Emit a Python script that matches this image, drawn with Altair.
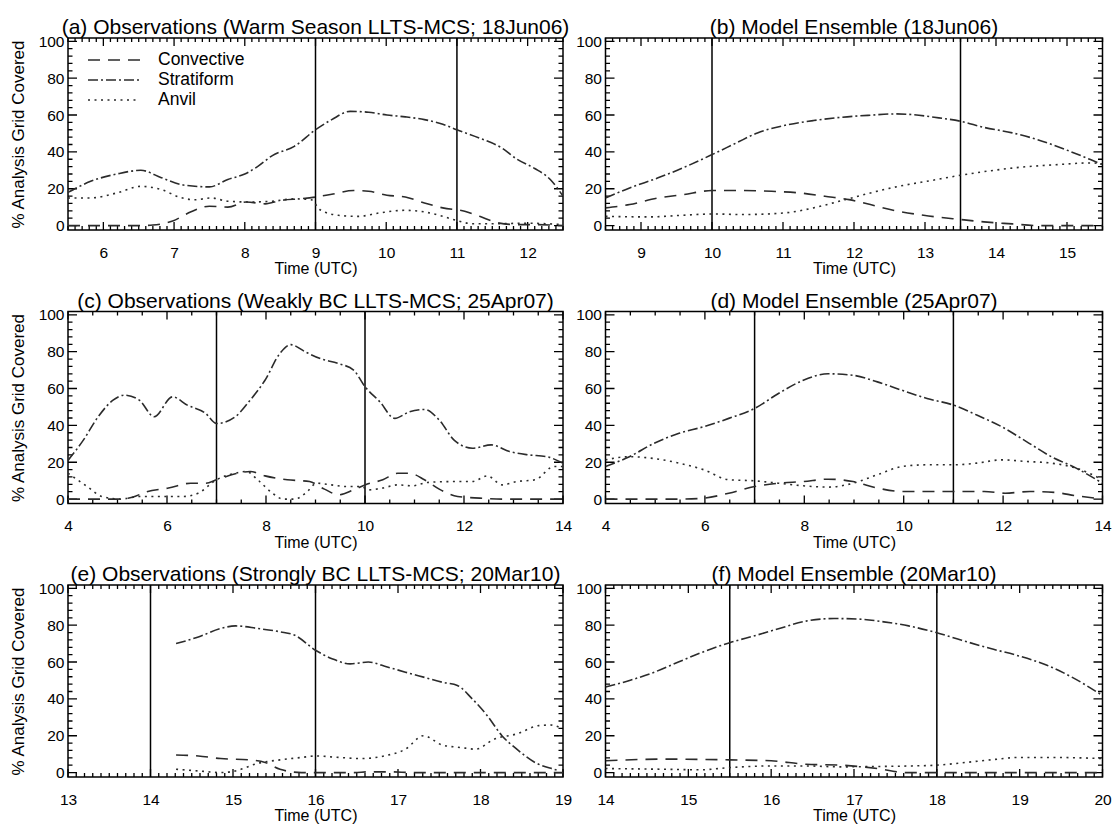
import altair as alt
import numpy as np
import pandas as pd

# ---------------- (a) Observations, warm season LLTS-MCS, 18 Jun 2006 ----------------
A_CONV_T = [5.5, 6.0, 6.5, 6.7, 6.98, 7.24, 7.5, 7.76, 8.02, 8.29, 8.5, 8.81, 9.0, 9.23, 9.54,
            9.75, 10.01, 10.27, 10.54, 10.8, 11.11, 11.32, 11.58, 11.85, 12.1, 12.5]
A_CONV = [0, 0, 0, 0.3, 2.5, 7.5, 10.5, 10, 12.8, 11.8, 13.6, 14.6, 15.5, 17, 19,
          18.6, 16.5, 15.5, 12.3, 9.6, 7.8, 5, 1.5, 0.5, 0.5, 0]
A_STRAT_T = [5.5, 5.82, 6.19, 6.53, 6.82, 7.13, 7.5, 7.76, 8.0, 8.18, 8.39, 8.7, 9.0, 9.23,
             9.49, 9.75, 10.01, 10.27, 10.54, 10.8, 11.0, 11.32, 11.64, 11.85, 12.1, 12.32, 12.5]
A_STRAT = [18, 24, 28, 30, 26, 22, 21, 25, 28, 32, 38, 43, 52, 57.5,
           62, 61.5, 60, 59, 57.5, 55, 52, 47.5, 42, 36, 31, 25, 16]
A_ANVIL_T = [5.5, 5.82, 6.19, 6.53, 6.82, 7.08, 7.29, 7.53, 7.76, 8.07, 8.39, 8.7, 8.94, 9.06,
             9.32, 9.6, 9.91, 10.27, 10.54, 10.8, 11.0, 11.22, 11.58, 11.95, 12.27, 12.5]
A_ANVIL = [15, 15, 17.7, 21.3, 19.5, 15.4, 14, 15, 13.2, 12.8, 13.2, 14.5, 14, 8.7,
           5.6, 5, 6.9, 8.3, 7.4, 5, 2.7, 1, 1, 1.3, 1, 0.5]
A_LINES = [9, 11]

# ---------------- (b) Model ensemble, 18 Jun 2006 ----------------
B_CONV_T = [8.5, 8.84, 9.24, 9.59, 10.0, 10.44, 10.84, 11.24, 11.59, 11.93, 12.23, 12.58, 12.98,
            13.5, 13.83, 14.23, 14.58, 15.0, 15.5]
B_CONV = [9.6, 11.4, 15, 16.8, 19, 19, 18.6, 17.7, 15.9, 14.1, 11.4, 8.1, 5.6,
          3.3, 2, 0.9, 0, 0, 0]
B_STRAT_T = [8.5, 8.84, 9.24, 9.59, 10.0, 10.34, 10.64, 11.03, 11.43, 11.83, 12.23, 12.58, 12.83,
             13.13, 13.5, 13.83, 14.23, 14.58, 14.98, 15.33, 15.5]
B_STRAT = [15, 20.4, 25.9, 31.3, 38.5, 44.8, 50.3, 54.4, 57, 58.8, 59.9, 60.6, 60.2,
           58.8, 56.6, 53.3, 50.3, 46.7, 41.2, 35.8, 33]
B_ANVIL_T = [8.5, 9.09, 9.59, 10.0, 10.44, 11.03, 11.43, 11.83, 12.23, 12.63, 13.08, 13.5, 13.93,
             14.33, 14.83, 15.33, 15.5]
B_ANVIL = [5, 4.7, 5.6, 6.3, 6, 6.9, 9.6, 13.6, 17.7, 21.3, 24.4, 27.3, 29.8,
           31.6, 33, 34, 33.5]
B_LINES = [10, 13.5]

# ---------------- (c) Observations, weakly BC LLTS-MCS, 25 Apr 2007 ----------------
C_CONV_T = [4.0, 4.5, 5.0, 5.3, 5.59, 6.03, 6.48, 6.78, 7.0, 7.38, 7.68, 7.98, 8.43, 8.88, 9.18,
            9.47, 9.77, 10.0, 10.36, 10.66, 10.9, 11.2, 11.5, 11.87, 12.32, 12.77, 13.44, 14.0]
C_CONV = [0, 0, 0, 1, 4, 6, 8.6, 8.6, 10.5, 13.7, 15, 12.6, 10.5, 9.5, 5.4,
          2.3, 5, 7.7, 10.5, 14, 14, 10.5, 5.4, 1.4, 0.5, 0, 0, 0]
C_STRAT_T = [4.0, 4.31, 4.61, 4.91, 5.14, 5.44, 5.74, 6.11, 6.41, 6.78, 7.0, 7.38, 7.68, 7.98,
             8.28, 8.5, 8.8, 9.1, 9.47, 9.77, 10.0, 10.3, 10.6, 10.9, 11.2, 11.5, 11.8, 12.17,
             12.55, 12.92, 13.3, 13.67, 14.0]
C_STRAT = [21, 32, 44.7, 53.7, 56.4, 53.7, 44.7, 55.5, 51, 46.5, 41, 44.7, 53.7, 64.5,
           79, 83.8, 79.8, 76.2, 73.5, 70, 61, 52.8, 43.8, 47.4, 48.6, 42.9, 32, 27.6,
           29.4, 25.8, 24, 23, 19.5]
C_ANVIL_T = [4.0, 4.39, 4.69, 5.06, 5.44, 5.88, 6.33, 6.63, 7.0, 7.38, 7.6, 7.83, 8.13, 8.35,
             8.58, 8.8, 9.03, 9.32, 9.62, 9.92, 10.07, 10.36, 10.66, 10.96, 11.26, 11.71, 12.17,
             12.47, 12.77, 13.07, 13.44, 13.82, 14.0]
C_ANVIL = [14, 6.8, 1.4, 0, 1.4, 1.4, 1.4, 3.2, 10.5, 14, 15, 10.5, 3.2, 0,
           0, 3.2, 8.6, 7.7, 6.8, 6.8, 5, 6, 7.7, 7.2, 9, 9.5, 9.5,
           12.6, 7.7, 9.5, 10.5, 17.7, 17.7]
C_LINES = [7, 10]

# ---------------- (d) Model ensemble, 25 Apr 2007 ----------------
D_CONV_T = [4.0, 4.98, 5.55, 5.98, 6.48, 7.0, 7.48, 7.98, 8.48, 8.98, 9.47, 9.97, 10.47, 11.0,
            11.62, 12.04, 12.54, 13.04, 13.47, 14.0]
D_CONV = [0, 0, 0, 0.5, 3.2, 6.8, 8.6, 9.5, 10.8, 9.5, 6, 4.1, 4.1, 4.1,
          4.1, 3.2, 4.1, 3.6, 1.8, 0]
D_STRAT_T = [4.0, 4.48, 4.98, 5.48, 5.98, 6.48, 7.0, 7.48, 7.98, 8.48, 8.98, 9.47, 9.97, 10.47,
             11.0, 11.47, 11.97, 12.47, 12.97, 13.47, 14.0]
D_STRAT = [17.7, 23, 30.3, 35.7, 39.3, 43.8, 49.2, 57.3, 64.5, 68, 67.2, 63.6, 59, 54.6,
           51, 45.6, 39.3, 31.2, 23, 16.8, 8.6]
D_ANVIL_T = [4.0, 4.48, 4.98, 5.48, 5.98, 6.48, 7.0, 7.48, 7.98, 8.48, 8.98, 9.47, 9.97, 10.47,
             11.0, 11.47, 11.97, 12.47, 12.97, 13.47, 14.0]
D_ANVIL = [21.3, 23, 22, 19.5, 15.9, 10.5, 9.9, 8.6, 7.2, 6.5, 8.6, 13.2, 17.7, 18.6,
           18.6, 19.5, 21.3, 20.4, 19.5, 16.8, 10.5]
D_LINES = [7, 11]

# ---------------- (e) Observations, strongly BC LLTS-MCS, 20 Mar 2010 ----------------
E_CONV_T = [14.31, 14.58, 14.85, 15.21, 15.39, 15.57, 15.83, 16.0, 16.47, 16.64, 16.91, 17.18,
            17.36, 18.0, 19.0]
E_CONV = [9.5, 9, 7.6, 6.9, 5.5, 1.8, 0, 0, 0, 0.4, 0.4, 0,
          0, 0, 0]
E_STRAT_T = [14.31, 14.58, 14.85, 15.03, 15.3, 15.57, 15.75, 16.0, 16.2, 16.42, 16.64, 16.87,
             17.09, 17.31, 17.54, 17.72, 17.9, 18.08, 18.26, 18.44, 18.66, 18.89, 18.95]
E_STRAT = [70, 73.6, 78.2, 79.6, 78.2, 76.4, 74.5, 66.4, 61.8, 59, 60, 57.3,
           54.5, 51.8, 49, 47.3, 40, 31, 20, 12.7, 5.5, 1.8, 1]
E_ANVIL_T = [14.31, 14.58, 14.85, 15.03, 15.3, 15.57, 15.83, 16.0, 16.29, 16.56, 16.83, 17.09,
             17.31, 17.54, 17.76, 17.94, 18.17, 18.44, 18.71, 18.85, 18.98]
E_ANVIL = [1.8, 0.9, 0, 0.9, 5, 6.9, 8.2, 9, 8.2, 7.6, 9, 12.7,
           20, 14.9, 13.6, 12.7, 18.2, 21, 25.5, 25.8, 24]
E_LINES = [14, 16]

# ---------------- (f) Model ensemble, 20 Mar 2010 ----------------
F_CONV_T = [14.0, 14.71, 15.5, 16.0, 16.42, 16.85, 17.28, 17.62, 17.99, 19.0, 20.0]
F_CONV = [6.4, 7.3, 6.9, 6.4, 4.5, 4, 2.2, 0, 0, 0, 0]
F_STRAT_T = [14.0, 14.29, 14.59, 14.88, 15.18, 15.5, 15.82, 16.12, 16.42, 16.76, 17.06, 17.36,
             17.66, 17.99, 18.3, 18.65, 18.99, 19.33, 19.63, 20.0]
F_STRAT = [46.4, 50, 54.5, 60, 65.5, 70.5, 74.5, 78.5, 82.2, 83.6, 83.3, 81.8,
           79.6, 76, 71.8, 67.3, 63.3, 58.2, 51.8, 41.8]
F_ANVIL_T = [14.0, 14.71, 15.14, 15.5, 16.0, 16.42, 16.85, 17.28, 17.7, 17.99, 18.35, 18.65,
             18.99, 19.41, 20.0]
F_ANVIL = [2.2, 1.8, 1.5, 2.7, 3.6, 3.6, 3.1, 3.3, 3.6, 4, 5.5, 6.9,
           8.2, 8.2, 7.6]
F_LINES = [15.5, 18]

SERIES = ["Convective", "Stratiform", "Anvil"]
DASHES = [[12, 8], [10, 3, 2, 3], [2, 4.5]]

FONT = "Liberation Sans"
INK = "#2b2b2b"
PANEL_H = 192
LEFT_W = 495
RIGHT_W = 497
Y_DOMAIN = [-2.4, 101.8]
Y_TITLE = "% Analysis Grid Covered"


def long_frame(conv, strat, anvil):
    parts = []
    for name, (t, v) in zip(SERIES, (conv, strat, anvil)):
        parts.append(pd.DataFrame({"time": t, "pct": v, "type": name}))
    return pd.concat(parts, ignore_index=True)


def tick_frame(lo, hi, minor, major):
    start = np.ceil(lo / minor - 1e-9) * minor
    v = np.round(np.arange(start, hi + minor * 1e-6, minor), 4)
    return pd.DataFrame({"v": v, "major": np.isclose(v / major, np.round(v / major))})


def edge_dash(span, major_len, minor_len):
    # a full-length rule dashed so only short inward stubs show at both frame edges
    return alt.condition(
        "datum.major",
        alt.value([major_len, span - 2 * major_len, major_len, 4000]),
        alt.value([minor_len, span - 2 * minor_len, minor_len, 4000]),
    )


def panel(title, conv, strat, anvil, vlines, xdom, major, minor, width,
          ytitle=False, legend=False):
    df = long_frame(conv, strat, anvil)
    xscale = alt.Scale(domain=xdom, nice=False, zero=False)
    yscale = alt.Scale(domain=Y_DOMAIN, nice=False, zero=False)
    xt = tick_frame(xdom[0], xdom[1], minor, major)
    yt = tick_frame(0, 100, 4, 20)
    x_labels = [float(v) for v in xt.loc[xt["major"], "v"]]
    y_labels = [float(v) for v in yt.loc[yt["major"], "v"]]

    # one axis definition shared by every layer, so the layers merge cleanly
    x_axis = alt.Axis(orient="bottom", values=x_labels, format="d", ticks=False,
                      tickSize=0, domain=False, grid=False, labelPadding=15,
                      labelFontSize=15.5, labelFlush=False, labelOverlap=False,
                      title="Time (UTC)", titleFontSize=16, titleFontWeight="normal",
                      titlePadding=0)
    y_axis_kw = dict(orient="left", values=y_labels, format="d", ticks=False, tickSize=0,
                     domain=False, grid=False, labelPadding=4, labelFontSize=15.5)
    if ytitle:
        y_axis_kw.update(title=Y_TITLE, titleFontSize=17, titleFontWeight="normal",
                         titlePadding=11)
    else:
        y_axis_kw.update(title=None)
    y_axis = alt.Axis(**y_axis_kw)

    dash_kw = dict(scale=alt.Scale(domain=SERIES, range=DASHES))
    if legend:
        dash_kw["legend"] = alt.Legend(
            orient="none", legendX=19, legendY=13, title=None, symbolType="stroke",
            symbolSize=2704, symbolStrokeWidth=1.5, symbolStrokeColor=INK,
            labelFontSize=17.5, labelFont=FONT, labelColor="black", labelOffset=17,
            clipHeight=18, rowPadding=2, padding=0)
    else:
        dash_kw["legend"] = None

    # inward tick stubs on all four sides of the frame
    x_ticks = alt.Chart(xt).mark_rule(color="black", strokeWidth=1.3).encode(
        x=alt.X("v:Q", scale=xscale, axis=x_axis),
        strokeDash=edge_dash(PANEL_H, 8, 4),
    )
    y_ticks = alt.Chart(yt).mark_rule(color="black", strokeWidth=1.3).encode(
        y=alt.Y("v:Q", scale=yscale, axis=y_axis),
        strokeDash=edge_dash(width, 9, 4.5),
    )

    rules = alt.Chart(pd.DataFrame({"time": vlines})).mark_rule(
        color="black", strokeWidth=1.5
    ).encode(x=alt.X("time:Q", scale=xscale, axis=x_axis))

    lines = alt.Chart(df).mark_line(
        color=INK, strokeWidth=1.6, interpolate="monotone", clip=True
    ).encode(
        x=alt.X("time:Q", scale=xscale, axis=x_axis),
        y=alt.Y("pct:Q", scale=yscale, axis=y_axis),
        strokeDash=alt.StrokeDash("type:N", **dash_kw),
    )

    return alt.layer(x_ticks, y_ticks, rules, lines).properties(
        width=width, height=PANEL_H,
        title=alt.TitleParams(title, fontSize=21, font=FONT, fontWeight="normal",
                              color="black", anchor="middle", offset=-4),
    )


panels = [
    panel("(a) Observations (Warm Season LLTS-MCS; 18Jun06)",
          (A_CONV_T, A_CONV), (A_STRAT_T, A_STRAT), (A_ANVIL_T, A_ANVIL), A_LINES,
          [5.5, 12.5], 1, 0.1, LEFT_W, ytitle=True, legend=True),
    panel("(b) Model Ensemble (18Jun06)",
          (B_CONV_T, B_CONV), (B_STRAT_T, B_STRAT), (B_ANVIL_T, B_ANVIL), B_LINES,
          [8.5, 15.5], 1, 0.1, RIGHT_W),
    panel("(c) Observations (Weakly BC LLTS-MCS; 25Apr07)",
          (C_CONV_T, C_CONV), (C_STRAT_T, C_STRAT), (C_ANVIL_T, C_ANVIL), C_LINES,
          [4, 14], 2, 0.5, LEFT_W, ytitle=True),
    panel("(d) Model Ensemble (25Apr07)",
          (D_CONV_T, D_CONV), (D_STRAT_T, D_STRAT), (D_ANVIL_T, D_ANVIL), D_LINES,
          [4, 14], 2, 0.5, RIGHT_W),
    panel("(e) Observations (Strongly BC LLTS-MCS; 20Mar10)",
          (E_CONV_T, E_CONV), (E_STRAT_T, E_STRAT), (E_ANVIL_T, E_ANVIL), E_LINES,
          [13, 19], 1, 0.1, LEFT_W, ytitle=True),
    panel("(f) Model Ensemble (20Mar10)",
          (F_CONV_T, F_CONV), (F_STRAT_T, F_STRAT), (F_ANVIL_T, F_ANVIL), F_LINES,
          [14, 20], 1, 0.1, RIGHT_W),
]

chart = alt.concat(
    *panels, columns=2, spacing={"row": 81.5, "column": 42.5}, bounds="flush"
).resolve_scale(
    strokeDash="independent"
).resolve_legend(
    strokeDash="independent"
).configure_view(
    stroke="black", strokeWidth=1.5
).configure_axis(
    labelFont=FONT, titleFont=FONT, labelColor="black", titleColor="black"
).properties(
    padding={"left": 8, "top": 16, "right": 2, "bottom": 0}, background="white"
)

chart.save("out.html", embed_options={"renderer": "svg", "actions": False})
